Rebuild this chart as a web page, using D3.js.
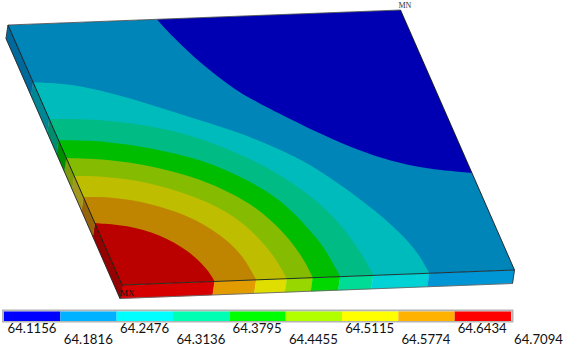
<!DOCTYPE html>
<html>
<head>
<meta charset="utf-8">
<script src="https://cdn.jsdelivr.net/npm/d3@7"></script>
<style>
  html, body { margin: 0; padding: 0; background: #fff; }
  svg { display: block; }
</style>
</head>
<body>
<div id="chart"></div>
<script>
// Legend values
var legendValues = [64.1156, 64.1816, 64.2476, 64.3136, 64.3795, 64.4455, 64.5115, 64.5774, 64.6434, 64.7094];

// Contour lines, [u, v] as fractions of the front and left edges
var levelRed = [[0, .238], [.078, .226], [.150, .186], [.206, .119], [.232, .045], [.236, 0]];
var levelOrange = [[0, .338], [.067, .335], [.144, .313], [.218, .270], [.270, .222], [.313, .155], [.336, .088], [.342, 0]];
var levelYellow = [[0, .419], [.047, .418], [.128, .401], [.203, .372], [.288, .318], [.341, .265], [.372, .215], [.396, .154], [.416, .072], [.420, 0]];
var levelLime = [[0, .488], [.066, .483], [.147, .465], [.224, .437], [.310, .392], [.379, .328], [.433, .258], [.472, .149], [.485, .058], [.486, 0]];
var levelGreen = [[0, .557], [.086, .551], [.166, .532], [.244, .505], [.335, .463], [.402, .408], [.467, .335], [.508, .259], [.541, .144], [.550, .090], [.556, 0]];
var levelTeal = [[0, .638], [.085, .634], [.167, .619], [.245, .597], [.300, .575], [.358, .542], [.426, .490], [.493, .425], [.556, .337], [.595, .256], [.616, .190], [.631, .110], [.638, .048], [.640, 0]];
var levelCyan = [[0, .780], [.084, .770], [.159, .741], [.231, .702], [.305, .656], [.376, .612], [.448, .568], [.520, .512], [.590, .447], [.654, .355], [.711, .255], [.754, .160], [.778, .078], [.783, 0]];
var levelDark = [[.379, 1], [.400, .931], [.439, .829], [.497, .722], [.540, .672], [.580, .628], [.653, .552], [.722, .490], [.791, .440], [.866, .404], [.923, .389], [1, .373]];

// Nested bands, painted from the largest one to the corner
var bands = [levelCyan, levelTeal, levelGreen, levelLime, levelYellow, levelOrange, levelRed];

// Colours, blue end first (dark blue is only on the plate top and legend)
var topColors = ["#0085b9", "#00bbbb", "#00bb84", "#00bd00", "#85bb00", "#bfbd00", "#bf8500", "#bb0000"];
var frontColors = ["#0096d6", "#00d2d6", "#00dc96", "#00d800", "#98d800", "#e0de00", "#e29c00", "#d60000"];
var leftColors = ["#00699b", "#008796", "#008c6e", "#008c00", "#7d9b0a", "#a3981e", "#96640a", "#960000"];
var darkBlue = "#0000b2";
var legendColors = ["#0000ff", "#00b2ff", "#00ffff", "#00ffb2", "#00ff00", "#b2ff00", "#ffff00", "#ffb200", "#ff0000"];

var svgWidth = 566;
var svgHeight = 347;

var svg = d3.select("#chart")
  .append("svg")
  .attr("width", svgWidth)
  .attr("height", svgHeight);

// Oblique projection of the plate: each plate axis adds its own pixel offset
var uX = d3.scaleLinear().domain([0, 1]).range([122, 514.5]);
var uY = d3.scaleLinear().domain([0, 1]).range([285, 270]);
var vX = d3.scaleLinear().domain([0, 1]).range([0, -114]);
var vY = d3.scaleLinear().domain([0, 1]).range([0, -260]);
var depthX = -2;
var depthY = 13.5;

function project(p, low) {
  return [uX(p[0]) + vX(p[1]) + (low ? depthX : 0), uY(p[0]) + vY(p[1]) + (low ? depthY : 0)];
}

function polygon(points) {
  return "M" + points.map(function (p) { return p.join(","); }).join("L") + "Z";
}

var contourLine = d3.line()
  .x(function (p) { return project(p)[0]; })
  .y(function (p) { return project(p)[1]; })
  .curve(d3.curveBasis);

// Top face clip
svg.append("clipPath")
  .attr("id", "topFace")
  .append("path")
  .attr("d", polygon([[0, 0], [1, 0], [1, 1], [0, 1]].map(function (p) { return project(p); })));

// Side faces, cut at the points where the contours meet the edges
var vStops = [0].concat(bands.slice().reverse().map(function (b) { return b[0][1]; })).concat([1]);
var uStops = [0].concat(bands.slice().reverse().map(function (b) { return b[b.length - 1][0]; })).concat([1]);

var leftGroup = svg.append("g");
var reversedLeft = leftColors.slice().reverse();
vStops.slice(1).forEach(function (stop, i) {
  var a = [0, vStops[i]];
  var b = [0, stop];
  leftGroup.append("path")
    .attr("d", polygon([project(a), project(b), project(b, true), project(a, true)]))
    .attr("fill", reversedLeft[i])
    .attr("stroke", reversedLeft[i])
    .attr("stroke-width", 0.3);
});

var frontGroup = svg.append("g");
var reversedFront = frontColors.slice().reverse();
uStops.slice(1).forEach(function (stop, i) {
  var a = [uStops[i], 0];
  var b = [stop, 0];
  frontGroup.append("path")
    .attr("d", polygon([project(a), project(b), project(b, true), project(a, true)]))
    .attr("fill", reversedFront[i])
    .attr("stroke", reversedFront[i])
    .attr("stroke-width", 0.3);
});

// Top face contour bands
var topGroup = svg.append("g").attr("clip-path", "url(#topFace)");

topGroup.append("path")
  .attr("d", polygon([[0, 0], [1, 0], [1, 1], [0, 1]].map(function (p) { return project(p); })))
  .attr("fill", topColors[0]);

topGroup.append("path")
  .attr("d", contourLine(levelDark) + "L" + project([1, 1]).join(",") + "Z")
  .attr("fill", darkBlue);

topGroup.selectAll(".band")
  .data(bands)
  .enter()
  .append("path")
  .attr("class", "band")
  .attr("d", function (b) { return contourLine(b) + "L" + project([0, 0]).join(",") + "Z"; })
  .attr("fill", function (b, i) { return topColors[i + 1]; });

// Plate edges
var edges = [
  [[0, 1], [1, 1], false, false, "#555"],
  [[1, 1], [1, 0], false, false, "#111"],
  [[1, 0], [0, 0], false, false, "#222"],
  [[0, 0], [0, 1], false, false, "#111"],
  [[0, 0], [0, 0], false, true, "#222"],
  [[0, 0], [1, 0], true, true, "#666"],
  [[0, 0], [0, 1], true, true, "#222"],
  [[1, 0], [1, 0], false, true, "#333"],
  [[0, 1], [0, 1], false, true, "#333"]
];
edges.forEach(function (e) {
  var a = project(e[0], e[2]);
  var b = project(e[1], e[3]);
  svg.append("line")
    .attr("x1", a[0]).attr("y1", a[1])
    .attr("x2", b[0]).attr("y2", b[1])
    .attr("stroke", e[4])
    .attr("stroke-width", 0.9);
});

// MN and MX markers
svg.append("text")
  .attr("x", 398.5).attr("y", 8)
  .attr("font-family", "Liberation Serif")
  .attr("font-size", 8)
  .attr("fill", "#333")
  .text("MN");
svg.append("text")
  .attr("x", 120).attr("y", 296)
  .attr("font-family", "Liberation Serif")
  .attr("font-size", 9)
  .attr("fill", "#111")
  .text("MX");

// Legend bar
var legendBand = d3.scaleBand()
  .domain(d3.range(legendColors.length))
  .range([4, 511]);

svg.append("rect")
  .attr("x", 3).attr("y", 310.5)
  .attr("width", 509.5).attr("height", 11)
  .attr("fill", "none")
  .attr("stroke", "#b4b4b4")
  .attr("stroke-width", 2);

svg.selectAll(".swatch")
  .data(legendColors)
  .enter()
  .append("rect")
  .attr("class", "swatch")
  .attr("x", function (d, i) { return legendBand(i); })
  .attr("y", 311.5)
  .attr("width", legendBand.bandwidth())
  .attr("height", 9.5)
  .attr("fill", function (d) { return d; });

// Legend labels alternate between two rows
var labelX = d3.scaleLinear()
  .domain([legendValues[0], legendValues[legendValues.length - 1]])
  .range([32, 538.5]);

svg.selectAll(".legendLabel")
  .data(legendValues)
  .enter()
  .append("text")
  .attr("class", "legendLabel")
  .attr("x", function (d) { return labelX(d); })
  .attr("y", function (d, i) { return i % 2 ? 344.3 : 332.5; })
  .attr("text-anchor", "middle")
  .attr("font-family", "Lato")
  .attr("font-size", 13.2)
  .attr("fill", "#111")
  .text(function (d) { return d.toFixed(4); });
</script>
</body>
</html>
